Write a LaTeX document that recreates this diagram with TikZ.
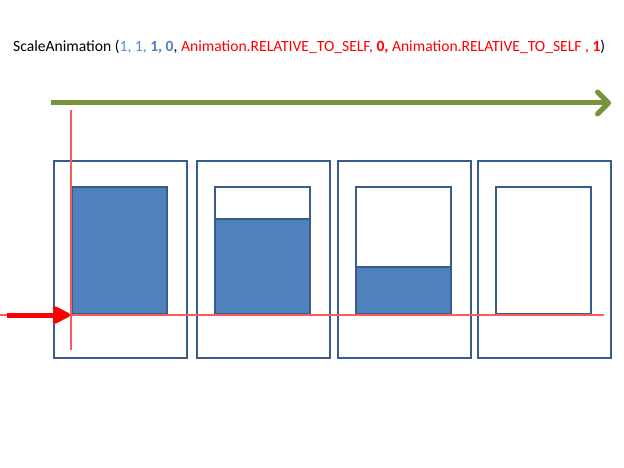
\documentclass[tikz,border=0pt]{standalone}
\usepackage{fontspec}
\setmainfont{Carlito}
\usepackage{xcolor}
\usetikzlibrary{positioning, arrows.meta, calc}
\definecolor{sablue}{RGB}{56, 93, 138}
\definecolor{safill}{RGB}{79, 129, 189}
\definecolor{salight}{RGB}{85, 142, 213}
\definecolor{sagreen}{RGB}{119, 147, 60}
\definecolor{sared}{RGB}{255, 0, 0}
\definecolor{saguide}{RGB}{255, 90, 90}
\tikzset{
    framebox/.style={rectangle, draw=sablue, line width=1.6pt, minimum width=133pt, minimum height=197pt, inner sep=0pt, outer sep=0pt},
    viewbox/.style={rectangle, draw=sablue, line width=1.8pt, minimum width=95pt, minimum height=127pt, inner sep=0pt, outer sep=0pt},
    scalefill/.style={fill=safill, draw=sablue, line width=1.8pt},
    timeline/.style={draw=sagreen, line width=5pt, -{Straight Barb[length=11pt, width=22pt, round]}},
    pivotarrow/.style={draw=sared, line width=5pt, -{Stealth[length=22pt, width=22pt, inset=5pt, round]}},
    guide/.style={color=saguide, line width=1.1pt}
}
\begin{document}
\begin{tikzpicture}[x=1pt, y=-1pt]
    \useasboundingbox (0,0) rectangle (624,468);
    % title
    \node[anchor=base west, inner sep=0pt, font=\fontsize{15.6}{18}\selectfont] (title) at (13,51.5)
        {ScaleAnimation (\textcolor{salight}{1, 1,} \textcolor{safill}{\bfseries 1, 0}, \textcolor{sared}{Animation.RELATIVE\_TO\_SELF, \textbf{0,} Animation.RELATIVE\_TO\_SELF , \textbf{1}})};
    % time axis
    \coordinate (tstart) at (51,103);
    \coordinate (tend) at (611,103);
    \draw[timeline] (tstart) -- (tend);
    % frames
    \foreach \x/\f [count=\i] in {54/1, 197/0.75, 338/0.37, 478/0} {
        \node[framebox] (frame\i) at (\x+66.5,259.5) {};
        \node[viewbox] (view\i) at (\x+65.5,250.5) {};
        \ifdim \f pt>0pt
            \draw[scalefill] (view\i.south west) rectangle ($(view\i.south east)!\f!(view\i.north east)$);
        \fi
    }
    % pivot guides
    \coordinate (vtop) at (71,110);
    \coordinate (vbot) at (71,350);
    \coordinate (hleft) at (0,315);
    \coordinate (hright) at (604,315);
    \draw[guide] (vtop) -- (vbot);
    \draw[guide] (hleft) -- (hright);
    \coordinate (pstart) at (7,315);
    \coordinate (pivot) at (70,315);
    \draw[pivotarrow] (pstart) -- (pivot);
\end{tikzpicture}
\end{document}
